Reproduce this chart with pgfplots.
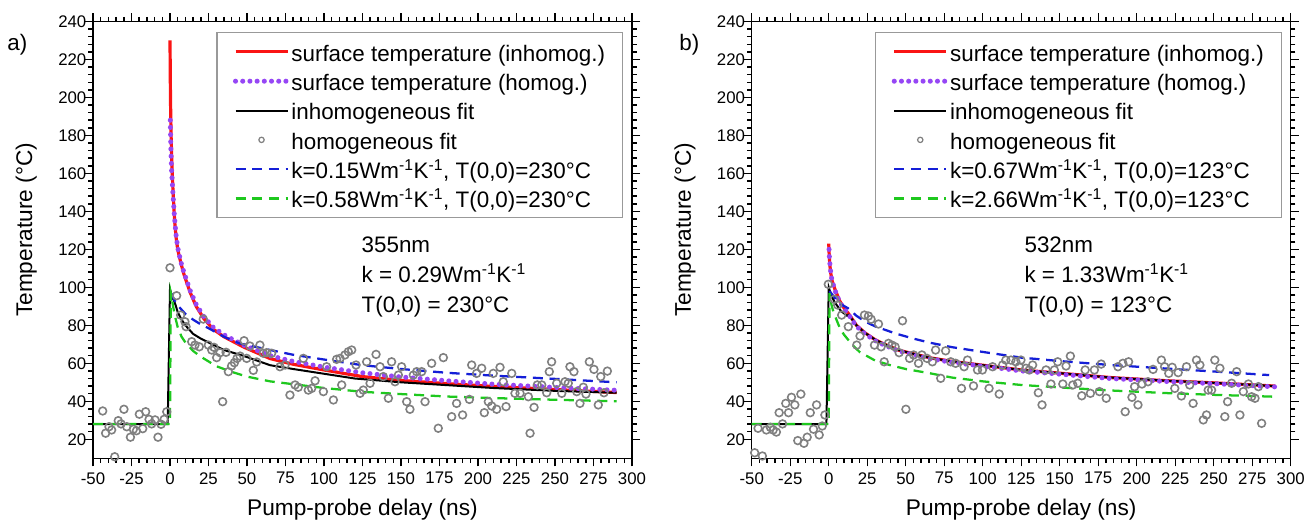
\documentclass[border=0pt]{standalone}
\usepackage{fontspec}
\setmainfont{Liberation Sans}
\usepackage{pgfplots}
\pgfplotsset{compat=1.18}

\definecolor{cred}{RGB}{250,20,20}
\definecolor{cpurple}{RGB}{150,70,245}
\definecolor{cblue}{RGB}{20,30,215}
\definecolor{cgreen}{RGB}{30,200,30}
\definecolor{cgray}{RGB}{128,128,128}

\pgfplotsset{
  myaxis/.style={
    scale only axis, width=404.25pt, height=327.6pt,
    xmin=-50, xmax=300, ymin=10, ymax=240,
    xtick={-50,-25,...,300}, ytick={20,40,...,240},
    minor x tick num=4, minor y tick num=4,
    tick align=outside, tick pos=both,
    xticklabel pos=lower, yticklabel pos=left,
    major tick length=6pt, minor tick length=3.4pt,
    axis line style={line width=1.1pt},
    tick style={line width=1.1pt, black},
    major tick style={line width=1.1pt, black},
    minor tick style={line width=1.1pt, black},
    tick label style={font=\fontsize{12.6}{14}\selectfont},
    yticklabel style={xshift=4.5pt},
    xticklabel style={yshift=-1pt},
    /pgf/number format/assume math mode=true,
    label style={font=\fontsize{17}{20}\selectfont},
    xlabel={Pump-probe delay (ns)},
    ylabel={Temperature (°C)},
    xlabel style={at={(axis description cs:0.5,-0.118)}, anchor=center},
    ylabel style={at={(axis description cs:-0.124,0.523)}, anchor=center},
    legend cell align=left,
    legend style={at={(1,1)}, anchor=north east, xshift=-6.75pt, yshift=-7.9pt,
      draw=cgray!80, line width=0.8pt, fill=white,
      font=\fontsize{16.8}{19}\selectfont,
      inner xsep=12pt, inner ysep=5.5pt, row sep=4pt,
      nodes={inner sep=1pt, text height=15pt, text depth=1pt}},
  },
  scat/.style={forget plot, only marks, mark=o, cgray, mark size=2.9pt, mark options={line width=1.2pt}},
  lred/.style={cred, line width=2.4pt},
  lpur/.style={cpurple, line width=3.8pt, line cap=round, dash pattern=on 0pt off 5.4pt},
  lblk/.style={black, line width=1.5pt},
  lblu/.style={cblue, line width=1.7pt, dash pattern=on 7.5pt off 5pt},
  lgrn/.style={cgreen, line width=1.7pt, dash pattern=on 7.5pt off 5pt},
  scatleg/.style={only marks, mark=o, cgray, mark size=2pt, mark options={line width=0.9pt},
    legend image code/.code={\draw[mark repeat=2,mark phase=2,##1] plot coordinates {(0pt,0pt)(19.5pt,0pt)(39pt,0pt)};}},
}
\pgfplotsset{legend image code/.code={\draw[#1] (0pt,0pt) -- (39pt,0pt);}}

\begin{document}
\begin{tikzpicture}
\path[use as bounding box] (0,0) rectangle (980.25pt,391.5pt);

% ---------------- panel a ----------------
\begin{axis}[myaxis, at={(69.75pt,47.8pt)}, anchor=south west]
\addlegendimage{lred}
\addlegendentry{surface temperature (inhomog.)}
\addlegendimage{lpur}
\addlegendentry{surface temperature (homog.)}
\addlegendimage{lblk}
\addlegendentry{inhomogeneous fit}
\addlegendimage{scatleg}
\addlegendentry{homogeneous fit}
\addlegendimage{lblu}
\addlegendentry{k=0.15Wm\textsuperscript{-1}K\textsuperscript{-1}, T(0,0)=230°C}
\addlegendimage{lgrn}
\addlegendentry{k=0.58Wm\textsuperscript{-1}K\textsuperscript{-1}, T(0,0)=230°C}

\addplot[scat] coordinates {
(-43.7,34.9) (-41.8,23.2) (-39.6,26.6) (-37.9,24.9) (-35.9,10.8) (-33.6,29.8) (-31.8,28.1)
(-29.9,35.8) (-28.1,26.6) (-25.7,21.1) (-23.8,25.3) (-21.8,24.5) (-19.9,33.2) (-17.7,25.6)
(-15.8,34.5) (-13.6,30.5) (-11.9,28.1) (-9.7,30.2) (-7.8,21.1) (-5.8,27.9) (-3.8,30.5) (-2.1,34.5)
(0.0,110.3) (4.3,95.6) (6.9,85.4) (9.7,81.9) (10.4,79.3) (14.1,71.4) (16.2,69.6) (19.0,68.7)
(21.6,83.3) (24.9,69.6) (27.1,67.0) (28.6,68.4) (30.3,63.0) (32.5,65.6) (34.2,39.8) (36.4,65.8)
(37.9,55.6) (40.0,58.6) (41.8,60.3) (43.5,62.6) (45.5,63.8) (48.1,71.9) (49.8,62.6) (51.9,69.1)
(54.1,56.3) (56.3,60.7) (58.4,69.6) (60.6,65.3) (62.8,65.6)
(66.0,65.3) (71.4,58.2) (74.7,59.1) (77.9,43.3) (81.2,48.6) (83.3,47.4) (86.6,62.6) (89.8,45.9)
(92,46.8) (94.2,50.8) (99.6,45.1) (101.7,58.2) (106.1,40.7) (108.2,62.1) (110.4,62.6) (111.5,48.6)
(113.6,64.4) (115.8,66.1) (118,67.0) (120.8,59.1) (123.4,44.2) (125.5,45.9) (127.7,60.8) (129.9,49.5)
(133.8,64.7) (136.4,58.2) (138.5,53.0) (141.8,41.6) (143.9,60.8) (146.1,50.3) (148.3,53.8) (150.4,58.2)
(153.7,39.8) (155.8,35.8) (158,53.8) (160.2,55.6) (163.4,55.6) (165.6,39.8) (169.9,60.0) (174.2,25.8)
(177.5,63.0)
(182.9,31.9) (186.1,38.9) (190,32.8) (194.4,41.0) (195.9,59.1) (199.1,54.7) (202.4,57.4) (204.1,34.0)
(206.7,39.8) (208.9,37.5) (209.9,54.7) (212.1,35.8) (214.3,57.9) (216.4,50.3) (218.2,37.2) (221.9,54.7)
(224,44.2) (227.3,44.2) (232.7,42.4) (233.8,23.2) (236.4,36.8) (238.5,48.6) (241.4,48.6) (244.6,44.5)
(246.3,55.6) (247.8,60.8) (251.1,49.5) (254.4,44.2) (256.5,50.3) (258.6,49.5) (259.7,58.2) (262.3,55.6)
(264.1,45.1) (266.2,38.9) (268.4,47.4) (270.1,43.8) (272.3,60.8) (275.3,56.8) (278.1,38.1) (279.7,53.0)
(281.8,44.5) (284,55.9)
};
\addplot[forget plot, lred] coordinates {
(0,230) (0.3,200) (0.7,180) (1.3,163) (2,150) (3,135) (4,126) (5,120) (7,113) (9,107) (13,97.5)
(17,90) (22,83.5) (28,78) (35,74) (48,68.5) (65,62.5) (80,59.5) (100,56.5) (125,53) (150,51)
(180,49.3) (210,47.8) (250,46.2) (290,44.6)
};
\addplot[forget plot, lblk] coordinates {
(-50,28) (-1.5,28) (0,99) (1,96) (2,94) (3.5,91) (5,87) (7.5,83) (10,80) (15,75.5) (20,73) (25,71)
(35,67) (47.5,64) (65,59) (80,57) (100,54.5) (120,52) (150,50) (180,48.5) (210,47) (250,45.5) (290,44.5)
};
\addplot[forget plot, lpur] coordinates {
(0.2,188) (0.5,175) (1,162) (2,148) (3,136) (4,127) (5,121) (7,113.5) (9,108) (13,98.5) (17,91)
(22,84.5) (28,79) (35,75) (48,69.5) (65,64) (80,61) (100,58) (125,55) (150,52.8) (180,50.8)
(210,49) (250,47.3) (290,45.8)
};
\addplot[forget plot, lblu] coordinates {
(0.5,97) (1,96.5) (3,93) (5,90.5) (10,86) (15,83) (20,80.5) (25,78.5) (35,74) (45,70.5) (65,67)
(80,64.5) (100,62) (125,59) (150,57) (180,55) (210,53.5) (250,51.8) (290,50)
};
\addplot[forget plot, lgrn] coordinates {
(-50,28) (0,28) (0.5,97) (1,95) (2,90) (3.5,84) (5,79) (7.5,74) (10,71) (15,66.5) (20,63.5) (30,58.5)
(40,55.5) (50,53) (65,50.5) (80,49) (100,47) (125,45) (150,43.8) (180,42.5) (210,41.7) (250,40.8) (290,40)
};
\node[anchor=base west, font=\fontsize{16.8}{19}\selectfont] at (axis cs:121.4,118.1) {355nm};
\node[anchor=base west, font=\fontsize{16.8}{19}\selectfont] at (axis cs:121.4,102.3) {k = 0.29Wm\textsuperscript{-1}K\textsuperscript{-1}};
\node[anchor=base west, font=\fontsize{16.8}{19}\selectfont] at (axis cs:121.4,86.5) {T(0,0) = 230°C};
\end{axis}

% ---------------- panel b ----------------
\begin{axis}[myaxis, at={(563.8pt,47.8pt)}, anchor=south west]
\addlegendimage{lred}
\addlegendentry{surface temperature (inhomog.)}
\addlegendimage{lpur}
\addlegendentry{surface temperature (homog.)}
\addlegendimage{lblk}
\addlegendentry{inhomogeneous fit}
\addlegendimage{scatleg}
\addlegendentry{homogeneous fit}
\addlegendimage{lblu}
\addlegendentry{k=0.67Wm\textsuperscript{-1}K\textsuperscript{-1}, T(0,0)=123°C}
\addlegendimage{lgrn}
\addlegendentry{k=2.66Wm\textsuperscript{-1}K\textsuperscript{-1}, T(0,0)=123°C}

\addplot[scat] coordinates {
(-48.1,12.9) (-45.9,25.8) (-43.1,11.2) (-40.5,24.9) (-37.9,26.3) (-36.1,24.9) (-34.0,23.8) (-32.2,34.0)
(-30.0,28.1) (-27.9,38.9) (-26.1,34.0) (-24.2,42.1) (-22,38.1) (-20.1,19.3) (-18.1,43.8) (-16.1,17.9)
(-14,21.1) (-12,34.0) (-9.9,25.3) (-7.9,38.1) (-6.2,22.3) (-4.2,27.0) (-2.5,32.8)
(-0.3,101.6) (3.6,93.7) (5.8,90.7) (8.4,85.4) (12.7,79.3) (18.2,69.6) (20.3,74.4) (23.2,85.4)
(25.8,84.9) (27.5,83.2) (29.7,69.6) (32.3,80.7) (34,68.7) (36,60.8) (38.8,70.5) (41,69.6) (43.1,68.7)
(45.7,65.6) (47.9,82.4) (50.1,35.8) (52.5,62.6) (55.1,64.4) (58.3,60.0) (60.5,64.4) (63.8,62.6)
(67.3,60.8) (69.4,67.0) (72.7,52.1) (75.9,66.6) (79.2,60.8) (82.4,60.0) (86.2,46.8) (87.9,58.2)
(90.1,61.7) (94,48.1) (96.6,56.5) (99.8,56.5) (104.1,46.8) (106.4,58.2) (110.7,43.8) (112.9,59.1)
(115,61.7) (118.3,61.7) (121.5,60.8) (123.7,58.2) (124.8,61.7) (128,57.4) (130.2,56.5) (132.4,59.1)
(136.1,44.5) (138.5,38.1) (141.1,56.5) (144.3,49.1) (146.5,56.5) (148.7,60.8) (152,49.1) (154.1,58.6)
(156.9,63.8) (158.5,48.6) (161.7,49.5) (164.3,42.9) (166.5,56.5) (169.9,44.2) (172.5,56.5) (175.8,45.1)
(176.9,59.6) (180.2,41.6)
(187.8,58.2) (191,60.0) (192.5,34.5) (194.7,60.8) (196.9,42.1) (198.6,47.7) (200.8,38.1) (203.4,49.1)
(207.3,50.3) (210.6,56.8) (216,61.7) (218.1,58.2) (220.8,54.7) (223,57.9) (224.7,46.8) (226.9,55.1)
(229,42.8) (232.3,58.2) (234.4,48.6) (236.6,38.9) (238.8,61.7) (241,59.1) (243.2,30.2) (245.3,32.8)
(246.4,45.9) (248.6,45.9) (250.7,61.7) (254,57.4) (257.2,31.9) (259,39.8) (261.6,49.5) (264.9,55.6)
(267,32.8) (269.2,45.1) (272.5,49.1) (274.6,42.4) (276.8,41.6) (279,47.7) (281.1,28.4)
};
\addplot[forget plot, lred] coordinates {
(0,123) (0.3,117) (0.7,112) (1.2,108) (2,104) (4,99) (7,93) (10,89) (13,86) (18,80) (23.6,76) (30,72.5)
(35,70.5) (45,67) (55,65) (65,63) (80,61) (100,59) (125,56.5) (150,54.8) (183,52.5) (220,50.8)
(250,49.7) (290,48)
};
\addplot[forget plot, lblk] coordinates {
(-50,28) (-1.5,28) (0,100) (2,95) (4,92) (8,87.5) (12,85) (13,85.5) (18,80) (23.6,76) (30,72.5)
(35,70.5) (45,67) (55,65) (65,63) (80,61) (100,59) (125,56.5) (150,54.8) (183,52.5) (220,50.8)
(250,49.7) (290,48)
};
\addplot[forget plot, lpur] coordinates {
(0.2,120) (0.5,115) (1,110) (2,104) (4,98.5) (7,92.5) (10,88.5) (13,85.5) (18,79.5) (23.6,75.5) (30,72)
(35,70) (45,66.5) (55,64.5) (65,62.5) (80,60.5) (100,58.5) (125,56) (150,54.3) (183,52) (220,50.4)
(250,49.3) (290,47.6)
};
\addplot[forget plot, lblu] coordinates {
(0.5,98) (1,97.5) (3,95.5) (6,92) (12.7,88.9) (18,85) (23.6,82) (30,79.5) (43,75.8) (55,73) (66,70.8)
(80,68.5) (100,66) (125,63) (150,61.2) (183,59.1) (220,57.2) (250,55.7) (286,53.8)
};
\addplot[forget plot, lgrn] coordinates {
(-50,28) (0,28) (0.5,97) (1,94) (2,90) (3.5,86) (5,83) (7.5,78) (10,75) (15,70) (20,66) (30,61.5)
(40,59) (50,57) (66,54.7) (80,52.5) (100,50.5) (125,48.6) (150,47.3) (183,45.7) (220,44.3) (250,43.4) (290,42.4)
};
\node[anchor=base west, font=\fontsize{16.8}{19}\selectfont] at (axis cs:124.1,118.1) {532nm};
\node[anchor=base west, font=\fontsize{16.8}{19}\selectfont] at (axis cs:124.1,102.3) {k = 1.33Wm\textsuperscript{-1}K\textsuperscript{-1}};
\node[anchor=base west, font=\fontsize{16.8}{19}\selectfont] at (axis cs:124.1,86.5) {T(0,0) = 123°C};
\end{axis}

\node[anchor=west, font=\fontsize{16.8}{19}\selectfont] at (2pt,357.75pt) {a)};
\node[anchor=west, font=\fontsize{16.8}{19}\selectfont] at (506pt,357.75pt) {b)};
\end{tikzpicture}
\end{document}
